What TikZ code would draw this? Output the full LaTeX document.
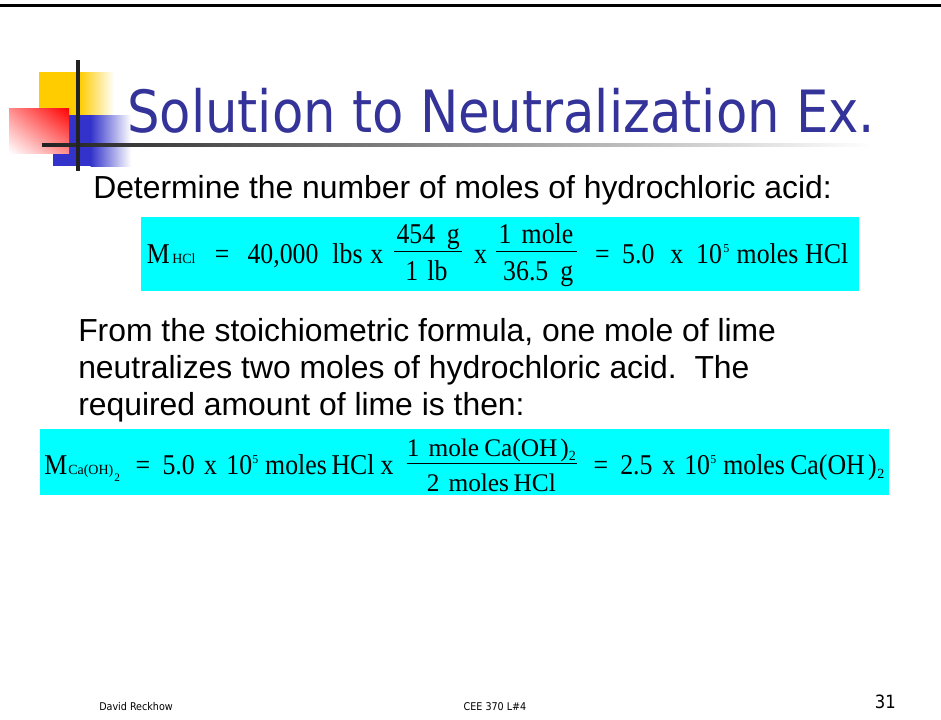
\documentclass[tikz,border=0pt]{standalone}
\usepackage{fontspec}
\usepackage{graphicx}
\usetikzlibrary{shadings}
\setmainfont{Liberation Serif}
\newfontfamily\eqf[FakeStretch=0.9]{Liberation Serif}
\newfontfamily\arialf{Liberation Sans}
\newfontfamily\tahomaf{DejaVu Sans Condensed}
\definecolor{titleblue}{HTML}{333399}
\definecolor{eqcyan}{HTML}{00FFFF}
\definecolor{decoyellow}{HTML}{FFCC00}
\definecolor{decoblue}{HTML}{3333CC}
\definecolor{decored}{HTML}{FF0000}
\definecolor{linedark}{HTML}{222222}
\begin{document}
\begin{tikzpicture}[x=0.75pt,y=-0.75pt,
  eq/.style={font=\eqf\fontsize{21.5pt}{23pt}\selectfont, inner sep=0pt, anchor=base},
  eql/.style={eq, anchor=base west},
  fr/.style={font=\fontsize{19pt}{21pt}\selectfont, inner sep=0pt, anchor=base west},
  sub/.style={font=\fontsize{10.5pt}{12pt}\selectfont, inner sep=0pt, anchor=base west},
  subsub/.style={font=\fontsize{8.5pt}{10pt}\selectfont, inner sep=0pt, anchor=base west},
  sup/.style={font=\fontsize{9pt}{10pt}\selectfont, inner sep=0pt, anchor=base west},
  body/.style={font=\arialf\fontsize{23.9pt}{28pt}\selectfont, inner sep=0pt, anchor=base west},
  foot/.style={font=\tahomaf\fontsize{8pt}{10pt}\selectfont, inner sep=0pt, anchor=base},
  fbar/.style={line width=0.9pt},
  eqbox/.style={fill=eqcyan, draw=none}
]
\useasboundingbox (0,0) rectangle (941,719);
\fill[white] (0,0) rectangle (941,719);
% top rule
\draw[line width=2.4pt, black] (0,5.5) -- (941,5.5);

% decoration
\fill[decoyellow] (39,72) rectangle (80,115);
\shade[left color=decoyellow, right color=white] (79.5,72) rectangle (114,115);
\fill[decoblue] (53,115) rectangle (91,166);
\shade[left color=decoblue, right color=white] (90.5,115) rectangle (131,166);
\shade[upper right=decored, upper left=decored!45, lower right=decored!45, lower left=white] (9,108) rectangle (69,153);
\shade[left color=linedark, right color=white] (42,143.3) rectangle (872,146.7);
\fill[linedark] (76.2,60) rectangle (79.8,171);

% title
\node[inner sep=0pt, anchor=base west, text=titleblue] (title) at (127,132)
  {\resizebox{561pt}{\height}{\tahomaf\fontsize{43.7pt}{50pt}\selectfont Solution to Neutralization Ex.}};

% heading
\node[body] (head) at (93,198.3) {Determine the number of moles of hydrochloric acid:};

% equation 1
\fill[eqbox] (141,216.5) rectangle (859,290.5);
\node[eql] (m1) at (146.7,263.3) {M};
\node[sub] (m1s) at (172,263.3) {HCl};
\node[eq] (eq1a) at (222.2,263.3) {=};
\node[eq] (n40) at (283,263.3) {40,000};
\node[eq] (lbs) at (347.5,263.3) {lbs};
\node[eq] (x1) at (376.7,263.3) {x};
\node[eq] (n454) at (415.9,243.3) {454};
\node[eq] (g1) at (453.3,243.3) {g};
\coordinate (b1l) at (394.3,251.7);
\coordinate (b1r) at (462.3,251.7);
\draw[fbar] (b1l) -- (b1r);
\node[eq] (d1) at (411.7,280) {1};
\node[eq] (dlb) at (437.5,280) {lb};
\node[eq] (x2) at (480.5,263.3) {x};
\node[eq] (n1) at (505,243.3) {1};
\node[eq] (mole1) at (547.5,243.3) {mole};
\coordinate (b2l) at (496,251.3);
\coordinate (b2r) at (576.7,251.3);
\draw[fbar] (b2l) -- (b2r);
\node[eq] (d365) at (525.8,280) {36.5};
\node[eq] (g2) at (566.7,280) {g};
\node[eq] (eq1b) at (602.5,263.3) {=};
\node[eq] (r50) at (638.3,263.3) {5.0};
\node[eq] (x3) at (676.7,263.3) {x};
\node[eq] (r10) at (709,263.3) {10};
\node[sup] (r5) at (723,252) {5};
\node[eq] (rmoles) at (767.5,263.3) {moles};
\node[eq] (rhcl) at (826.7,263.3) {HCl};

% paragraph
\node[body] (p1) at (78,341.7) {From the stoichiometric formula, one mole of lime};
\node[body] (p2) at (78,378.3) {neutralizes two moles of hydrochloric acid.\ \ The};
\node[body] (p3) at (78,415) {required amount of lime is then:};

% equation 2
\fill[eqbox] (40,429) rectangle (889,495);
\node[eql] (m2) at (44,474.3) {M};
\node[sub] (m2s) at (68,474.3) {Ca(OH)};
\node[subsub] (m2ss) at (114,481) {2};
\node[eq] (eq2a) at (143,474.3) {=};
\node[eq] (s50) at (178.7,474.3) {5.0};
\node[eq] (x4) at (210.6,474.3) {x};
\node[eq] (s10) at (239.3,474.3) {10};
\node[sup] (s5) at (252,463.5) {5};
\node[eq] (smoles) at (296,474.3) {moles};
\node[eq] (shcl) at (353,474.3) {HCl};
\node[eq] (x5) at (387,474.3) {x};
\node[fr] (num2a) at (406.7,456) {1};
\node[fr] (num2b) at (428.3,456) {mole};
\node[fr] (num2c) at (484,456) {Ca(OH};
\node[fr] (num2d) at (560,456) {)};
\node[sub] (num2s) at (568.5,460) {2};
\coordinate (b3l) at (406.7,463.3);
\coordinate (b3r) at (577,463.3);
\draw[fbar] (b3l) -- (b3r);
\node[fr] (den2a) at (426.7,491) {2};
\node[fr] (den2b) at (448.3,491) {moles};
\node[fr] (den2c) at (513.3,491) {HCl};
\node[eq] (eq2b) at (601,474.3) {=};
\node[eql] (t25) at (620,474.3) {2.5};
\node[eql] (x6) at (662,474.3) {x};
\node[eql] (t10) at (684,474.3) {10};
\node[sup] (t5) at (710,463.5) {5};
\node[eql] (tmoles) at (723,474.3) {moles};
\node[eql] (tca) at (790,474.3) {Ca(OH\kern0.12em)};
\node[sub, yshift=-3.5pt] (tca2) at (tca.base east) {2};

% footer
\node[foot] (fl) at (136,710) {David Reckhow};
\node[foot] (fc) at (495,710) {CEE 370 L\#4};
\node[inner sep=0pt, anchor=base east, font=\tahomaf\fontsize{13.7pt}{16pt}\selectfont] (fn) at (896,708) {31};
\end{tikzpicture}
\end{document}
